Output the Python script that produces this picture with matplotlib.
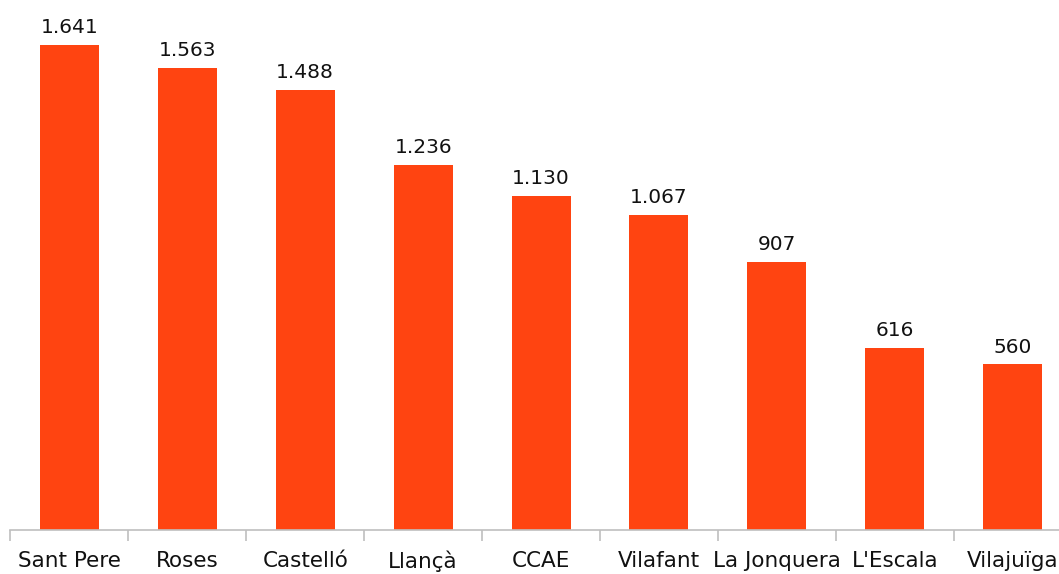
import numpy as np
import matplotlib.pyplot as plt

# municipalities and values
towns = ['Sant Pere', 'Roses', 'Castelló', 'Llançà', 'CCAE',
         'Vilafant', 'La Jonquera', "L'Escala", 'Vilajuïga']
values = [1641, 1563, 1488, 1236, 1130, 1067, 907, 616, 560]
labels = ['1.641', '1.563', '1.488', '1.236', '1.130',
          '1.067', '907', '616', '560']

bar_color = '#ff4411'
axis_gray = '#bfbfbf'

fig = plt.figure(figsize=(10.59, 5.74), dpi=100)
# the plot area runs a little past the right edge, as in the original
ax = fig.add_axes([0.0099, 0.0767, 1.002, 0.9233])

x = np.arange(len(towns))
ax.bar(x, values, width=0.5, color=bar_color, zorder=2)

for xi, v, lab in zip(x, values, labels):
    ax.annotate(lab, (xi, v), xytext=(0, 8.5), textcoords='offset points',
                ha='center', va='baseline', fontsize=14.5, color='#111111')

ax.set_xlim(-0.5, len(towns) - 0.5)
ax.set_ylim(0, 1793)

# tick labels under the bars, tick marks at the category boundaries
ax.set_xticks(x)
ax.set_xticklabels(towns, fontsize=15.5, color='#111111')
ax.tick_params(axis='x', which='major', length=0, pad=15)
ax.set_xticks(np.arange(len(towns) + 1) - 0.5, minor=True)
ax.tick_params(axis='x', which='minor', length=8, width=1.2, color=axis_gray)
ax.set_yticks([])

for side in ['top', 'right', 'left']:
    ax.spines[side].set_visible(False)
ax.spines['bottom'].set_color(axis_gray)
ax.spines['bottom'].set_linewidth(1.2)

fig.savefig('out.png', dpi=100)
